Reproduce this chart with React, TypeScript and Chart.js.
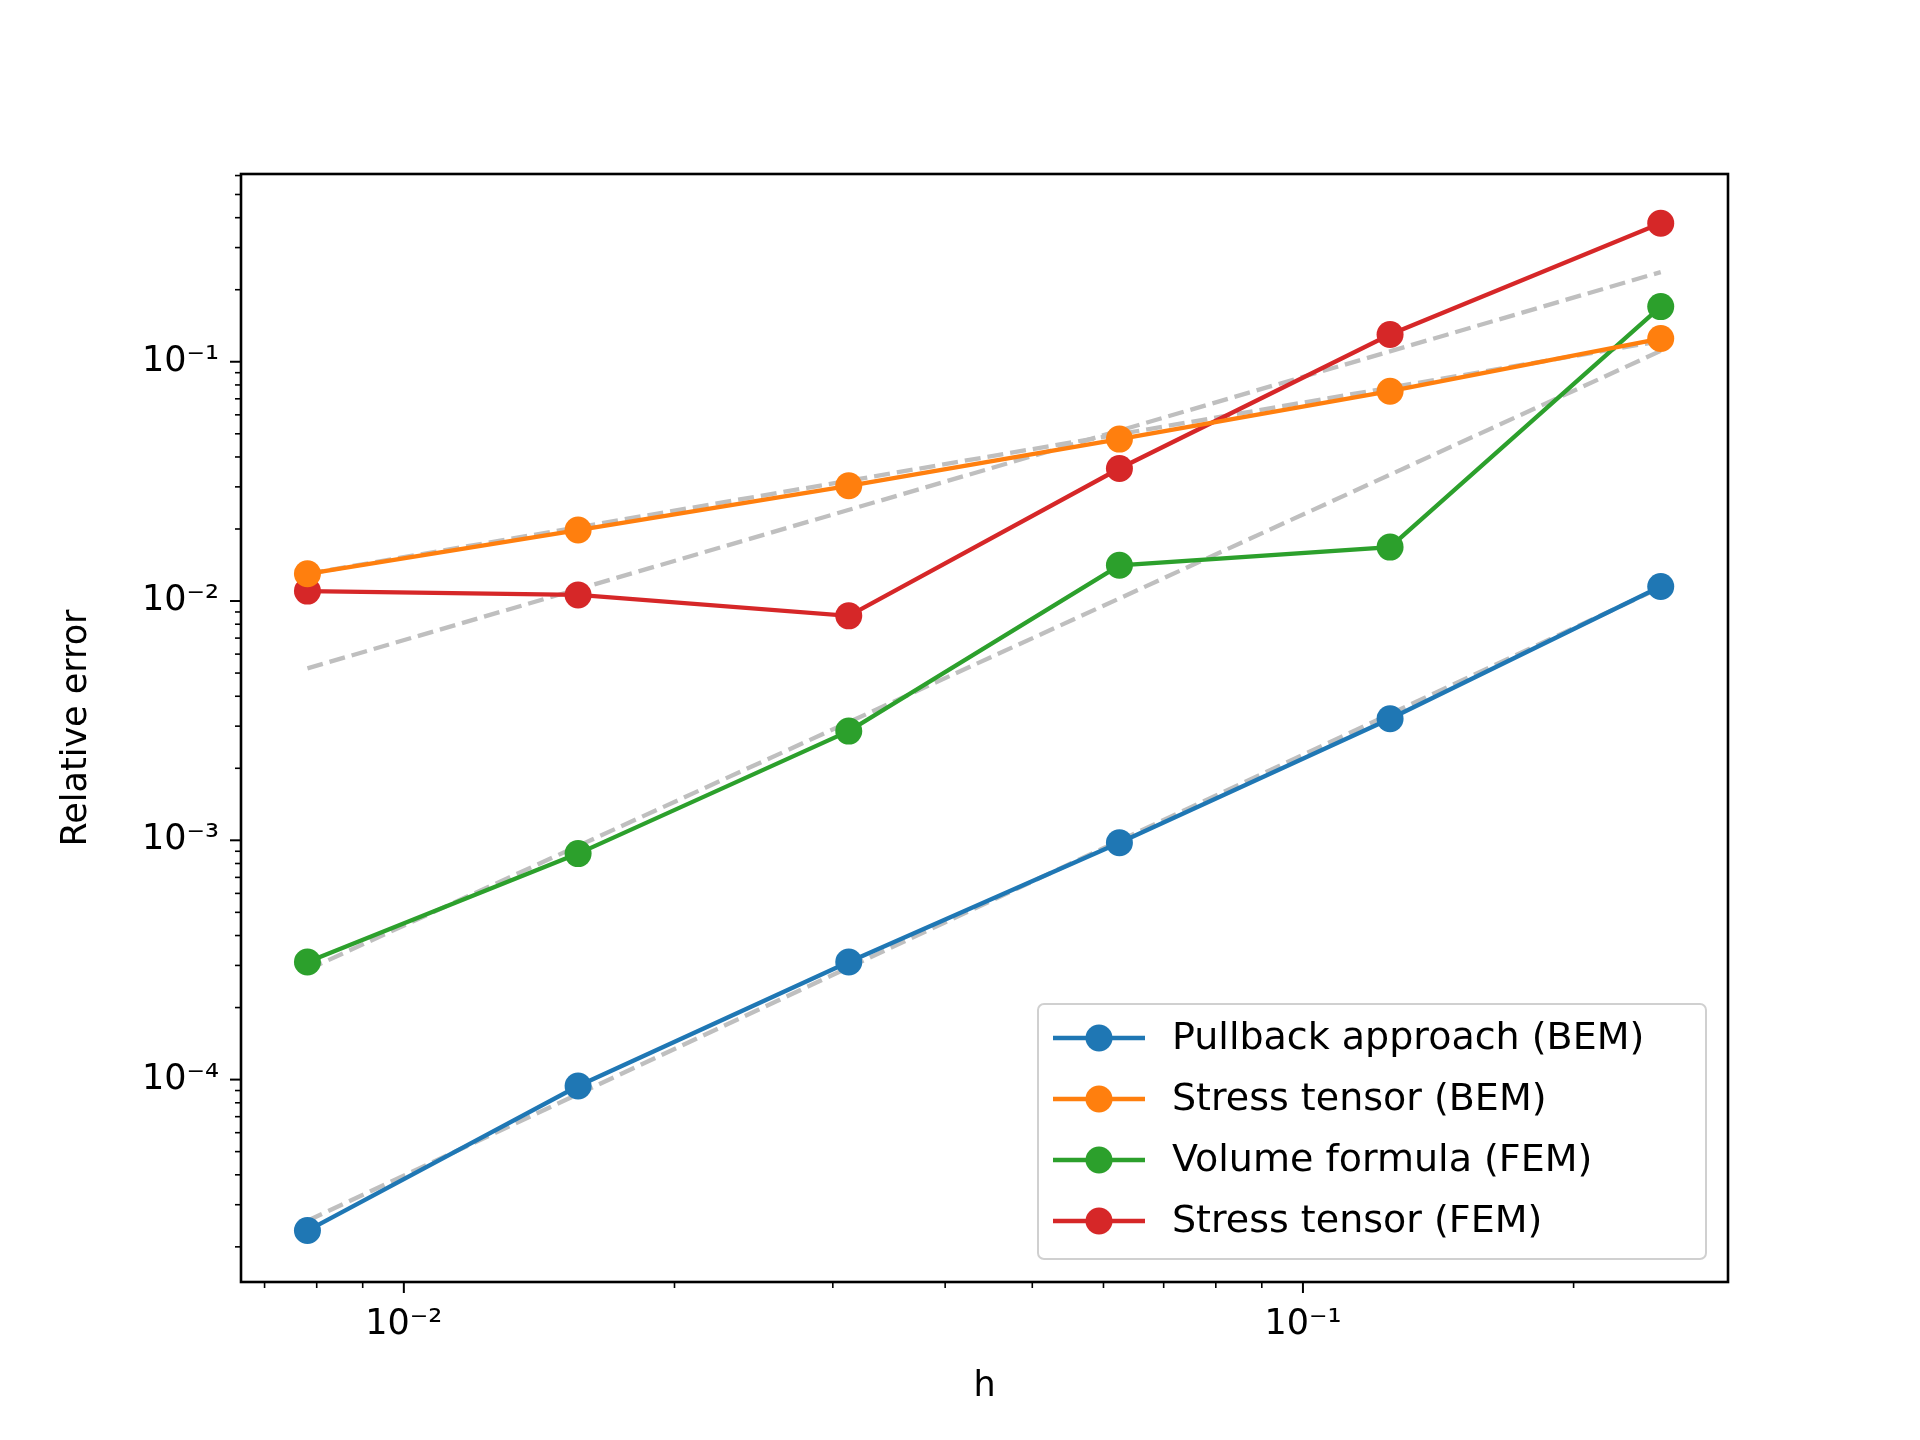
import { useEffect, useRef } from "react";
import { Chart, registerables } from "chart.js";

Chart.register(...registerables);

const hValues = [0.0078125, 0.015625, 0.03125, 0.0625, 0.125, 0.25];
const pullbackBem = [2.34e-5, 9.4e-5, 3.1e-4, 9.77e-4, 3.22e-3, 1.15e-2];
const stressBem = [1.3e-2, 1.98e-2, 3.03e-2, 4.75e-2, 7.53e-2, 0.125];
const volumeFem = [3.1e-4, 8.8e-4, 2.86e-3, 1.41e-2, 1.68e-2, 0.17];
const stressFem = [1.1e-2, 1.06e-2, 8.67e-3, 3.58e-2, 0.13, 0.379];

const fitX = [0.0078125, 0.25];
const fitPullback = [2.57e-5, 1.14e-2];
const fitStressBem = [1.3e-2, 0.122];
const fitVolume = [2.88e-4, 0.111];
const fitStressFem = [5.23e-3, 0.237];

const xMajor = [0.01, 0.1];
const xMinor = [0.007, 0.008, 0.009, 0.02, 0.03, 0.04, 0.05, 0.06, 0.07, 0.08, 0.09, 0.2];
const yMajor = [1e-4, 1e-3, 1e-2, 1e-1];
const yMinor = [
  2e-5, 3e-5, 4e-5, 5e-5, 6e-5, 7e-5, 8e-5, 9e-5,
  2e-4, 3e-4, 4e-4, 5e-4, 6e-4, 7e-4, 8e-4, 9e-4,
  2e-3, 3e-3, 4e-3, 5e-3, 6e-3, 7e-3, 8e-3, 9e-3,
  2e-2, 3e-2, 4e-2, 5e-2, 6e-2, 7e-2, 8e-2, 9e-2,
  2e-1, 3e-1, 4e-1, 5e-1, 6e-1,
];
const xLabels: Record<string, string> = { "0.01": "10⁻²", "0.1": "10⁻¹" };
const yLabels: Record<string, string> = { "0.0001": "10⁻⁴", "0.001": "10⁻³", "0.01": "10⁻²", "0.1": "10⁻¹" };

const FONT = "DejaVu Sans";
const COLORS = ["#1f77b4", "#ff7f0e", "#2ca02c", "#d62728"];
const NAMES = ["Pullback approach (BEM)", "Stress tensor (BEM)", "Volume formula (FEM)", "Stress tensor (FEM)"];

const frame = {
  id: "frame",
  afterDraw(chart: any) {
    const { ctx, chartArea: a } = chart;
    const xs = chart.scales.x;
    const ys = chart.scales.y;
    ctx.save();
    ctx.strokeStyle = "#000";
    ctx.lineWidth = 2.6;
    ctx.strokeRect(a.left, a.top, a.right - a.left, a.bottom - a.top);
    const tick = (vals: number[], len: number, axis: "x" | "y") => {
      vals.forEach((v) => {
        ctx.beginPath();
        if (axis === "x") {
          const p = xs.getPixelForValue(v);
          ctx.moveTo(p, a.bottom);
          ctx.lineTo(p, a.bottom + len);
        } else {
          const p = ys.getPixelForValue(v);
          ctx.moveTo(a.left, p);
          ctx.lineTo(a.left - len, p);
        }
        ctx.stroke();
      });
    };
    ctx.lineWidth = 2;
    tick(xMajor, 11, "x");
    tick(yMajor, 11, "y");
    ctx.lineWidth = 1.6;
    tick(xMinor, 6, "x");
    tick(yMinor, 6, "y");

    // legend
    const bx = 1038, by = 1004, bw = 668, bh = 255;
    ctx.fillStyle = "rgba(255,255,255,0.8)";
    ctx.strokeStyle = "#d0d0d0";
    ctx.lineWidth = 2;
    ctx.beginPath();
    ctx.roundRect(bx, by, bw, bh, 6);
    ctx.fill();
    ctx.stroke();
    ctx.font = `38px ${FONT}`;
    ctx.textBaseline = "middle";
    NAMES.forEach((name, i) => {
      const y = 1038 + i * 61;
      ctx.strokeStyle = COLORS[i];
      ctx.lineWidth = 4.3;
      ctx.beginPath();
      ctx.moveTo(1053, y);
      ctx.lineTo(1145, y);
      ctx.stroke();
      ctx.fillStyle = COLORS[i];
      ctx.beginPath();
      ctx.arc(1099, y, 13.5, 0, Math.PI * 2);
      ctx.fill();
      ctx.fillStyle = "#000";
      ctx.fillText(name, 1172, y + 1);
    });
    ctx.restore();
  },
};

export default function App() {
  const canvasRef = useRef<HTMLCanvasElement>(null);

  useEffect(() => {
    document.body.style.margin = "0";
    if (!canvasRef.current) return;
    const series = [pullbackBem, stressBem, volumeFem, stressFem].map((s, i) => ({
      label: NAMES[i],
      data: s.map((y, j) => ({ x: hValues[j], y })),
      borderColor: COLORS[i],
      backgroundColor: COLORS[i],
      borderWidth: 4.3,
      pointRadius: 13.5,
      pointBorderWidth: 0,
      tension: 0,
    }));
    const fits = [fitPullback, fitStressBem, fitVolume, fitStressFem].map((s) => ({
      label: "fit",
      data: s.map((y, j) => ({ x: fitX[j], y })),
      borderColor: "#bfbfbf",
      borderWidth: 4.3,
      borderDash: [16, 7],
      pointRadius: 0,
    }));
    const chart = new Chart(canvasRef.current, {
      type: "line",
      data: { datasets: [...series, ...fits] as any },
      options: {
        responsive: false,
        devicePixelRatio: 1,
        animation: false,
        layout: { padding: { top: 174, right: 192, left: 56, bottom: 32 } },
        plugins: { legend: { display: false }, tooltip: { enabled: false } },
        scales: {
          x: {
            type: "logarithmic",
            min: 0.00659,
            max: 0.297,
            grid: { display: false },
            border: { display: false },
            afterFit: (s: any) => { s.height = 126; },
            afterBuildTicks: (s: any) => { s.ticks = xMajor.map((v) => ({ value: v })); },
            ticks: {
              autoSkip: false,
              maxRotation: 0,
              padding: 14,
              color: "#000",
              font: { family: FONT, size: 35 },
              callback: (v: any) => xLabels[String(v)] ?? "",
            },
            title: { display: true, text: "h", color: "#000", font: { family: FONT, size: 35 }, padding: 0 },
          },
          y: {
            type: "logarithmic",
            min: 1.426e-5,
            max: 0.609,
            grid: { display: false },
            border: { display: false },
            afterFit: (s: any) => { s.width = 185; },
            afterBuildTicks: (s: any) => { s.ticks = yMajor.map((v) => ({ value: v })); },
            ticks: {
              autoSkip: false,
              padding: 14,
              color: "#000",
              font: { family: FONT, size: 35 },
              callback: (v: any) => yLabels[String(v)] ?? "",
            },
            title: { display: true, text: "Relative error", color: "#000", font: { family: FONT, size: 35 }, padding: 0 },
          },
        },
      },
      plugins: [frame],
    });
    return () => chart.destroy();
  }, []);

  return (
    <div style={{ width: 1920, height: 1440, background: "#fff" }}>
      <canvas ref={canvasRef} width={1920} height={1440} />
    </div>
  );
}
